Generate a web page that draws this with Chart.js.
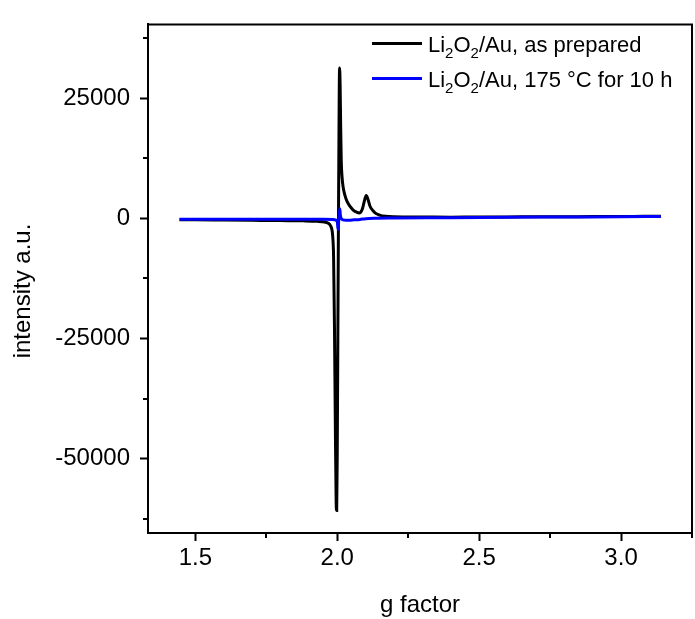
<!DOCTYPE html>
<html>
<head>
<meta charset="utf-8">
<title>EPR spectrum</title>
<script src="https://cdn.jsdelivr.net/npm/chart.js@4.4.1/dist/chart.umd.min.js"></script>
<style>
  html, body { margin: 0; padding: 0; background: #fff; }
  #wrap { position: relative; width: 695px; height: 619px; }
</style>
</head>
<body>
<div id="wrap"><canvas id="epr-chart"></canvas></div>
<script>
// Li2O2/Au, as prepared (black)
var gPrepared = [1.444, 1.50, 1.60, 1.70, 1.80, 1.88, 1.93, 1.955, 1.968, 1.976, 1.981, 1.984, 1.987, 1.990, 1.993, 1.996, 1.998, 2.000, 2.002, 2.004, 2.006, 2.008, 2.010, 2.012, 2.014, 2.017, 2.021, 2.027, 2.034, 2.045, 2.056, 2.068, 2.079, 2.088, 2.095, 2.102, 2.108, 2.115, 2.126, 2.137, 2.149, 2.170, 2.200, 2.300, 2.400, 2.500, 2.600, 2.700, 2.800, 2.900, 3.000, 3.080, 3.140];
var iPrepared = [-250, -300, -350, -400, -450, -500, -600, -750, -1000, -1500, -2300, -3800, -8000, -22000, -42000, -59000, -60800, -48000, -25000, -2000, 18000, 31300, 28000, 19000, 12000, 8500, 6400, 4800, 3600, 2500, 1750, 1300, 1150, 1900, 3500, 4750, 4000, 2600, 1600, 1000, 700, 450, 350, 300, 250, 300, 300, 350, 350, 400, 400, 450, 450];

// Li2O2/Au, 175 °C for 10 h (blue)
var gAnnealed = [1.444, 1.55, 1.70, 1.85, 1.95, 1.985, 1.995, 2.000, 2.003, 2.005, 2.007, 2.009, 2.011, 2.015, 2.025, 2.040, 2.060, 2.080, 2.100, 2.130, 2.200, 2.400, 2.600, 2.800, 3.000, 3.140];
var iAnnealed = [-150, -150, -150, -150, -150, -200, -350, -700, -2300, -500, 1200, 2000, 600, -100, -350, -400, -300, -200, -50, 50, 100, 150, 250, 300, 350, 400];

var xTicks = [1.5, 1.75, 2.0, 2.25, 2.5, 2.75, 3.0, 3.25];
var xMajor = [1.5, 2.0, 2.5, 3.0];
var yTicks = [-62500, -50000, -37500, -25000, -12500, 0, 12500, 25000, 37500];
var yMajor = [-50000, -25000, 0, 25000];

var legendItems = [
    { text: 'Li_2O_2/Au, as prepared', color: '#000000' },
    { text: 'Li_2O_2/Au, 175 °C for 10 h', color: '#0000ff' }
];

var FONT = "'Liberation Sans', Arial, sans-serif";

function toPoints(xs, ys) {
    return xs.map(function (x, i) { return { x: x, y: ys[i] }; });
}

// draws text where "_2" means a subscript 2
function drawSubText(ctx, str, x, y, size) {
    var parts = str.split(/(_\d)/);
    parts.forEach(function (p) {
        if (!p) return;
        if (p.charAt(0) === '_') {
            ctx.font = Math.round(size * 0.7) + 'px ' + FONT;
            ctx.fillText(p.slice(1), x, y + 6.5);
            x += ctx.measureText(p.slice(1)).width;
        } else {
            ctx.font = size + 'px ' + FONT;
            ctx.fillText(p, x, y);
            x += ctx.measureText(p).width;
        }
    });
}

var extras = {
    id: 'extras',
    afterDraw: function (chart) {
        var ctx = chart.ctx, a = chart.chartArea;
        var xs = chart.scales.x, ys = chart.scales.y;
        ctx.save();
        ctx.strokeStyle = '#000';
        ctx.lineWidth = 2;
        ctx.beginPath();
        // top and right frame
        ctx.moveTo(a.left, a.top);
        ctx.lineTo(a.right, a.top);
        ctx.lineTo(a.right, a.bottom);
        // minor ticks
        xTicks.forEach(function (v) {
            if (xMajor.indexOf(v) > -1) return;
            var p = Math.round(xs.getPixelForValue(v));
            ctx.moveTo(p, a.bottom);
            ctx.lineTo(p, a.bottom + 5);
        });
        yTicks.forEach(function (v) {
            if (yMajor.indexOf(v) > -1) return;
            var p = Math.round(ys.getPixelForValue(v));
            ctx.moveTo(a.left, p);
            ctx.lineTo(a.left - 5, p);
        });
        ctx.stroke();

        // axis titles
        ctx.fillStyle = '#000';
        ctx.font = '24px ' + FONT;
        ctx.textAlign = 'center';
        ctx.textBaseline = 'alphabetic';
        ctx.fillText('g factor', (a.left + a.right) / 2, 612);
        ctx.save();
        ctx.translate(23, 291);
        ctx.rotate(-Math.PI / 2);
        ctx.textBaseline = 'middle';
        ctx.fillText('intensity a.u.', 0, 0);
        ctx.restore();

        // legend
        ctx.textAlign = 'left';
        ctx.textBaseline = 'alphabetic';
        legendItems.forEach(function (item, i) {
            var ly = 43.5 + i * 35;
            ctx.strokeStyle = item.color;
            ctx.lineWidth = 3;
            ctx.beginPath();
            ctx.moveTo(372, ly);
            ctx.lineTo(422, ly);
            ctx.stroke();
            ctx.fillStyle = '#000';
            drawSubText(ctx, item.text, 428, ly + 8.2, 22);
        });
        ctx.restore();
    }
};

var ctx = document.getElementById('epr-chart').getContext('2d');
var eprChart = new Chart(ctx, {
    type: 'line',
    data: {
        datasets: [{
            label: 'Li2O2/Au, as prepared',
            data: toPoints(gPrepared, iPrepared),
            borderColor: '#000000',
            borderWidth: 3,
            pointRadius: 0,
            cubicInterpolationMode: 'monotone',
            order: 1
        }, {
            label: 'Li2O2/Au, 175 °C for 10 h',
            data: toPoints(gAnnealed, iAnnealed),
            borderColor: '#0000ff',
            borderWidth: 3,
            pointRadius: 0,
            cubicInterpolationMode: 'monotone',
            order: 0
        }]
    },
    options: {
        responsive: true,
        maintainAspectRatio: false,
        animation: false,
        layout: { padding: { top: 13, right: 1, left: 0, bottom: 0 } },
        plugins: {
            legend: { display: false },
            tooltip: { enabled: false }
        },
        scales: {
            x: {
                type: 'linear',
                min: 1.333,
                max: 3.25,
                afterFit: function (s) { s.height = 86; },
                afterBuildTicks: function (s) {
                    s.ticks = xTicks.map(function (v) { return { value: v }; });
                },
                grid: {
                    drawOnChartArea: false,
                    tickLength: 8,
                    tickWidth: 2,
                    tickColor: function (c) {
                        return c.tick && xMajor.indexOf(c.tick.value) > -1 ? '#000' : 'rgba(0,0,0,0)';
                    }
                },
                border: { display: true, color: '#000', width: 2 },
                ticks: {
                    autoSkip: false,
                    maxRotation: 0,
                    padding: 3,
                    color: '#000',
                    font: { family: FONT, size: 24 },
                    callback: function (v) { return xMajor.indexOf(v) > -1 ? v.toFixed(1) : ''; }
                }
            },
            y: {
                type: 'linear',
                min: -65500,
                max: 40400,
                afterFit: function (s) { s.width = 148; },
                afterBuildTicks: function (s) {
                    s.ticks = yTicks.map(function (v) { return { value: v }; });
                },
                grid: {
                    drawOnChartArea: false,
                    tickLength: 8,
                    tickWidth: 2,
                    tickColor: function (c) {
                        return c.tick && yMajor.indexOf(c.tick.value) > -1 ? '#000' : 'rgba(0,0,0,0)';
                    }
                },
                border: { display: true, color: '#000', width: 2 },
                ticks: {
                    autoSkip: false,
                    padding: 10,
                    color: '#000',
                    font: { family: FONT, size: 24 },
                    callback: function (v) { return yMajor.indexOf(v) > -1 ? String(v) : ''; }
                }
            }
        }
    },
    plugins: [extras]
});
</script>
</body>
</html>
